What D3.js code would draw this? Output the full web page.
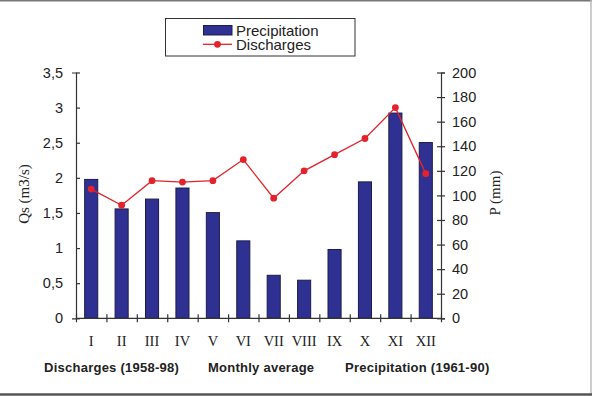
<!DOCTYPE html>
<html>
<head>
<meta charset="utf-8">
<script src="https://cdn.jsdelivr.net/npm/d3@7"></script>
<style>
  body { margin: 0; background: #fff; }
  svg { display: block; }
</style>
</head>
<body>
<div id="chart"></div>
<script>
// months (roman numerals)
var months = ["I", "II", "III", "IV", "V", "VI", "VII", "VIII", "IX", "X", "XI", "XII"];
// precipitation, mm (bars, right axis)
var precipitation = [113, 89, 97, 106, 86, 63, 35, 31, 56, 111, 167, 143];
// discharges, m3/s (line, left axis)
var discharges = [1.84, 1.61, 1.96, 1.94, 1.96, 2.26, 1.71, 2.10, 2.33, 2.56, 3.00, 2.06];
// tick values
var qsTicks = [0, 0.5, 1, 1.5, 2, 2.5, 3, 3.5];
var pTicks = [0, 20, 40, 60, 80, 100, 120, 140, 160, 180, 200];

var W = 592, H = 396;
var plotLeft = 76, plotRight = 441, plotTop = 72.5, plotBottom = 318.3;
var sans = "'Liberation Sans', Arial, sans-serif";
var serif = "'Liberation Serif', 'Times New Roman', serif";

var svg = d3.select("#chart").append("svg")
  .attr("width", W)
  .attr("height", H);

svg.append("rect").attr("width", W).attr("height", H).attr("fill", "#fff");

// frame
svg.append("line").attr("x1", 0).attr("x2", W).attr("y1", 0.7).attr("y2", 0.7)
  .attr("stroke", "#777").attr("stroke-width", 1.5);
svg.append("line").attr("x1", 591).attr("x2", 591).attr("y1", 0).attr("y2", 394)
  .attr("stroke", "#bbb").attr("stroke-width", 1.5);
svg.append("line").attr("x1", 0).attr("x2", W).attr("y1", 394.5).attr("y2", 394.5)
  .attr("stroke", "#555").attr("stroke-width", 2.5);

var x = d3.scaleBand().domain(months).range([plotLeft, plotRight]).padding(0);
var xEdge = d3.scaleLinear().domain([0, 12]).range([plotLeft, plotRight]);
var yQ = d3.scaleLinear().domain([0, 3.5]).range([plotBottom, plotTop]);
var yP = d3.scaleLinear().domain([0, 200]).range([plotBottom, plotTop]);

var comma = d3.formatLocale({decimal: ",", thousands: ".", grouping: [3], currency: ["", ""]});

// bars
var bw = x.bandwidth() * 0.43;
svg.append("g").selectAll("rect")
  .data(precipitation)
  .enter().append("rect")
    .attr("x", function(d, i) { return x(months[i]) + (x.bandwidth() - bw) / 2; })
    .attr("y", function(d) { return yP(d); })
    .attr("width", bw)
    .attr("height", function(d) { return plotBottom - yP(d); })
    .attr("fill", "#2e3192")
    .attr("stroke", "#1c1c4a")
    .attr("stroke-width", 1);

// left axis
var gL = svg.append("g")
  .attr("transform", "translate(" + plotLeft + ",0)")
  .call(d3.axisLeft(yQ).tickValues(qsTicks).tickFormat(comma.format("")).tickSize(4).tickPadding(9));
gL.selectAll(".tick line").attr("x2", 4);

// right axis
var gR = svg.append("g")
  .attr("transform", "translate(" + plotRight + ",0)")
  .call(d3.axisRight(yP).tickValues(pTicks).tickSize(4).tickPadding(7));
gR.selectAll(".tick line").attr("x1", -4);

// bottom axis: ticks at month boundaries
var gB = svg.append("g")
  .attr("transform", "translate(0," + plotBottom + ")")
  .call(d3.axisBottom(xEdge).ticks(12).tickFormat("").tickSize(4));
gB.selectAll(".tick line").attr("y1", -4);

// month labels
var gM = svg.append("g")
  .attr("transform", "translate(0," + plotBottom + ")")
  .call(d3.axisBottom(x).tickSize(0));
gM.select(".domain").remove();
gM.selectAll("text").attr("y", 28).attr("dy", null)
  .style("font-family", serif).style("font-size", "14.5px").attr("fill", "#222");

[gL, gR, gB].forEach(function(g) {
  g.select(".domain").attr("stroke", "#333").attr("stroke-width", 1.2);
  g.selectAll(".tick line").attr("stroke", "#333").attr("stroke-width", 1.2);
  g.selectAll(".tick text").style("font-family", sans).style("font-size", "14.5px").attr("fill", "#222");
});
gB.select(".domain").attr("d", "M" + plotLeft + ",0H" + plotRight);

// discharge line
var line = d3.line()
  .x(function(d, i) { return x(months[i]) + x.bandwidth() / 2; })
  .y(function(d) { return yQ(d); });
svg.append("path")
  .datum(discharges)
  .attr("d", line)
  .attr("fill", "none")
  .attr("stroke", "#e3222c")
  .attr("stroke-width", 1.3);
svg.append("g").selectAll("circle")
  .data(discharges)
  .enter().append("circle")
    .attr("cx", function(d, i) { return x(months[i]) + x.bandwidth() / 2; })
    .attr("cy", function(d) { return yQ(d); })
    .attr("r", 3.4)
    .attr("fill", "#e3222c");

// axis titles
svg.append("text")
  .attr("transform", "translate(29,194) rotate(-90)")
  .attr("text-anchor", "middle")
  .style("font-family", serif).style("font-size", "15px").attr("fill", "#222")
  .text("Qs (m3/s)");
svg.append("text")
  .attr("transform", "translate(500,193) rotate(-90)")
  .attr("text-anchor", "middle")
  .style("font-family", serif).style("font-size", "15px").attr("fill", "#222")
  .text("P (mm)");

// bottom captions
var captions = [["Discharges (1958-98)", 44], ["Monthly average", 208], ["Precipitation (1961-90)", 345]];
svg.append("g").selectAll("text")
  .data(captions)
  .enter().append("text")
    .attr("x", function(d) { return d[1]; })
    .attr("y", 371.5)
    .style("font-family", sans).style("font-size", "13px").style("font-weight", "bold")
    .style("letter-spacing", "0.25px").attr("fill", "#222")
    .text(function(d) { return d[0]; });

// legend
var lg = svg.append("g");
lg.append("rect").attr("x", 165.5).attr("y", 18.5).attr("width", 189.5).attr("height", 37.5)
  .attr("fill", "#fff").attr("stroke", "#333").attr("stroke-width", 1);
lg.append("rect").attr("x", 203.5).attr("y", 25.5).attr("width", 28.5).attr("height", 9.5)
  .attr("fill", "#2e3192").attr("stroke", "#1c1c4a");
lg.append("line").attr("x1", 203).attr("x2", 232).attr("y1", 44.3).attr("y2", 44.3)
  .attr("stroke", "#e3222c").attr("stroke-width", 1.3);
lg.append("circle").attr("cx", 217.5).attr("cy", 44.3).attr("r", 3.4).attr("fill", "#e3222c");
lg.append("text").attr("x", 236).attr("y", 35.5)
  .style("font-family", sans).style("font-size", "15px").attr("fill", "#222").text("Precipitation");
lg.append("text").attr("x", 236).attr("y", 49.5)
  .style("font-family", sans).style("font-size", "15px").attr("fill", "#222").text("Discharges");
</script>
</body>
</html>
